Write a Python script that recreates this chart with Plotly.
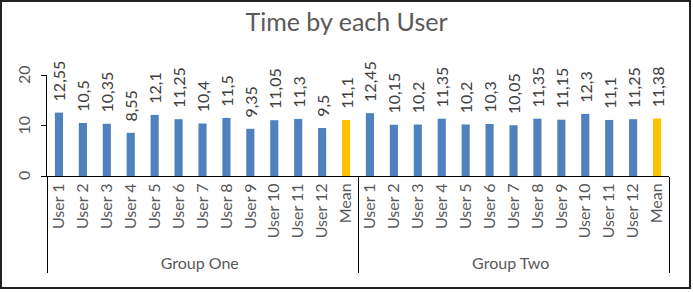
import plotly.graph_objects as go

groups = ["Group One", "Group Two"]
users = ["User 1", "User 2", "User 3", "User 4", "User 5", "User 6", "User 7",
         "User 8", "User 9", "User 10", "User 11", "User 12", "Mean"]
group_one = [12.55, 10.5, 10.35, 8.55, 12.1, 11.25, 10.4, 11.5, 9.35, 11.05, 11.3, 9.5, 11.1]
group_two = [12.45, 10.15, 10.2, 11.35, 10.2, 10.3, 10.05, 11.35, 11.15, 12.3, 11.1, 11.25, 11.38]
y_ticks = [0, 10, 20]

BLUE = "#4F81BD"
ORANGE = "#FFC000"
TXT = "#595959"
FONT = "Lato"

xg, xu, yv, cols = [], [], [], []
for g, vals in zip(groups, [group_one, group_two]):
    for u, v in zip(users, vals):
        xg.append(g)
        xu.append(u)
        yv.append(v)
        cols.append(ORANGE if u == "Mean" else BLUE)
labels = ["\u00a0\u00a0" + ("%g" % v).replace(".", ",") for v in yv]

fig = go.Figure(go.Bar(
    x=[xg, xu], y=yv, marker=dict(color=cols, line=dict(width=0)),
    text=labels, textposition="outside", textangle=-90, cliponaxis=False,
    constraintext="none",
    textfont=dict(family=FONT, size=16, color="#404040"),
))

W, H = 693, 292
L, R, T, B = 47, 24, 75, 116
pw, ph = W - L - R, H - T - B
def px(x): return (x - L) / pw
def py(y): return (H - B - y) / ph

annotations = [dict(text=str(t), xref="paper", x=0, xshift=-24, xanchor="center",
                    yref="y", y=t, yanchor="middle", textangle=-90, showarrow=False,
                    font=dict(family=FONT, size=16, color=TXT)) for t in y_ticks]

fig.update_layout(
    width=W, height=H, margin=dict(l=L, r=R, t=T, b=B),
    paper_bgcolor="white", plot_bgcolor="white",
    bargap=0.66, showlegend=False,
    font=dict(family=FONT, color=TXT),
    title=dict(text="Time by each User", x=0.5, xanchor="center", y=1 - 22 / H, yanchor="middle",
               font=dict(family=FONT, size=25, color=TXT)),
    xaxis=dict(type="multicategory", showline=True, linecolor="black", linewidth=1,
               tickangle=-90, tickfont=dict(family=FONT, size=16, color=TXT),
               showdividers=True, dividercolor="black", dividerwidth=1,
               ticks="", showgrid=False),
    yaxis=dict(range=[0, 20], tickvals=y_ticks, showline=True, linecolor="black", linewidth=1,
               ticks="outside", ticklen=5, tickcolor="black", showticklabels=False,
               showgrid=False, zeroline=False),
    annotations=annotations,
    shapes=[dict(type="rect", xref="paper", yref="paper",
                 x0=px(1), x1=px(690), y0=py(1), y1=py(288),
                 line=dict(color="#222222", width=2), fillcolor="rgba(0,0,0,0)", layer="below")],
)
fig.write_html("out.html")
